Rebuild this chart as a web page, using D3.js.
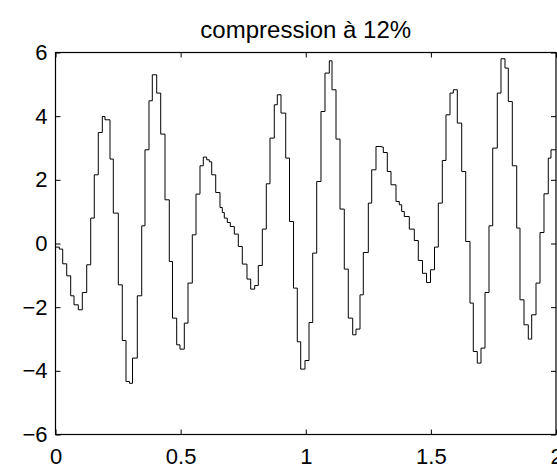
<!DOCTYPE html>
<html><head><meta charset="utf-8">
<script src="https://cdn.jsdelivr.net/npm/d3@7"></script>
<style>
body{margin:0;background:#fff}
svg{display:block}
text{font-family:"Liberation Sans",Arial,Helvetica,sans-serif;fill:#000}
</style>
</head><body>
<svg id="chart" width="557" height="474"></svg>
<script>
const chartTitle = "compression à 12%";
// start time of each constant step (s)
const stepStarts = [0,0.0152,0.0288,0.0448,0.0607,0.0739,0.0911,0.1071,0.1247,0.1407,
0.1550,0.1710,0.1870,0.1978,0.2178,0.2310,0.2510,0.2669,0.2817,0.2957,
0.3077,0.3269,0.3445,0.3576,0.3736,0.3868,0.4044,0.4204,0.4376,0.4547,
0.4675,0.4843,0.4975,0.5147,0.5295,0.5467,0.5614,0.5774,0.5906,0.6042,
0.6146,0.6242,0.6402,0.6573,0.6665,0.6745,0.6865,0.6985,0.7145,0.7305,
0.7465,0.7652,0.7800,0.7960,0.8104,0.8264,0.8424,0.8571,0.8743,0.8863,
0.9011,0.9199,0.9351,0.9510,0.9662,0.9798,0.9970,1.0130,1.0278,1.0438,
1.0609,1.0769,1.0941,1.1049,1.1209,1.1369,1.1540,1.1700,1.1876,1.2008,
1.2168,1.2300,1.2500,1.2635,1.2807,1.3035,1.3099,1.3259,1.3407,1.3606,
1.3738,1.3834,1.3938,1.4138,1.4338,1.4498,1.4665,1.4825,1.4985,1.5145,
1.5297,1.5457,1.5604,1.5764,1.5896,1.6056,1.6232,1.6392,1.6563,1.6695,
1.6855,1.7003,1.7163,1.7323,1.7471,1.7654,1.7802,1.7962,1.8094,1.8254,
1.8430,1.8561,1.8721,1.8893,1.9029,1.9201,1.9361,1.9520,1.9692,1.9800];
// signal value held during each step
const stepValues = [-0.113,-0.176,-0.638,-1.015,-1.643,-1.926,-2.083,-1.539,-0.669,0.798,
2.158,3.487,3.990,3.886,2.652,0.955,-1.298,-3.047,-4.336,-4.392,
-3.600,-1.643,0.556,2.944,4.483,5.300,4.725,3.437,1.373,-0.566,
-2.344,-3.183,-3.318,-2.501,-1.244,0.273,1.552,2.441,2.714,2.630,
2.567,2.158,1.602,1.131,0.974,0.798,0.660,0.534,0.295,-0.094,
-0.647,-1.118,-1.433,-1.320,-0.691,0.452,1.876,3.311,4.358,4.672,
4.097,2.683,0.691,-1.401,-3.088,-3.946,-3.676,-2.482,-0.302,1.948,
4.147,5.353,5.740,4.829,3.280,1.081,-0.804,-2.344,-2.868,-2.689,
-1.612,-0.283,1.269,2.315,3.047,3.029,2.859,2.262,1.844,1.320,
1.216,1.005,0.848,0.452,0.094,-0.534,-0.936,-1.225,-0.826,-0.113,
1.269,2.608,4.043,4.725,4.829,3.783,2.262,0.063,-1.872,-3.393,
-3.757,-3.286,-1.539,0.556,2.997,4.725,5.803,5.510,4.461,2.441,
0.484,-1.769,-2.554,-3.003,-2.240,-1.244,0.346,1.561,2.683,2.944];
const xEnd = 2;
const xTickValues = [0, 0.5, 1, 1.5, 2];
const xTickLabels = ["0", "0.5", "1", "1.5", "2"];
const yTickValues = [-6, -4, -2, 0, 2, 4, 6];
const yTickLabels = ["−6", "−4", "−2", "0", "2", "4", "6"];

const W = 557, H = 474;
const m = {left: 55.5, top: 52.5, right: 1, bottom: 39.5};
const iw = W - m.left - m.right, ih = H - m.top - m.bottom;

const svg = d3.select("#chart");
const g = svg.append("g").attr("transform", `translate(${m.left},${m.top})`);

const x = d3.scaleLinear().domain([0, 2]).range([0, iw]);
const y = d3.scaleLinear().domain([-6, 6]).range([ih, 0]);

const pts = stepStarts.map((t, i) => [t, stepValues[i]]);
pts.push([xEnd, stepValues[stepValues.length - 1]]);

g.append("path")
  .datum(pts)
  .attr("fill", "none")
  .attr("stroke", "#000")
  .attr("stroke-width", 1)
  .attr("d", d3.line().x(d => x(d[0])).y(d => y(d[1])).curve(d3.curveStepAfter));

function styleAxis(sel, fs) {
  sel.select(".domain").remove();
  sel.selectAll(".tick line").attr("stroke", "#000");
  sel.selectAll(".tick text").attr("font-size", fs).attr("fill", "#000")
     .attr("font-family", '"Liberation Sans",Arial,Helvetica,sans-serif');
}

const fs = 22;
g.append("g").attr("transform", `translate(0,${ih})`)
  .call(d3.axisBottom(x).tickValues(xTickValues).tickFormat((d, i) => xTickLabels[i]).tickSizeInner(-5).tickSizeOuter(0).tickPadding(14))
  .call(s => styleAxis(s, fs));
g.append("g")
  .call(d3.axisTop(x).tickValues(xTickValues).tickFormat("").tickSizeInner(-5).tickSizeOuter(0))
  .call(s => styleAxis(s, fs));
g.append("g")
  .call(d3.axisLeft(y).tickValues(yTickValues).tickFormat((d, i) => yTickLabels[i]).tickSizeInner(-5).tickSizeOuter(0).tickPadding(8))
  .call(s => styleAxis(s, fs));
g.append("g").attr("transform", `translate(${iw},0)`)
  .call(d3.axisRight(y).tickValues(yTickValues).tickFormat("").tickSizeInner(-5).tickSizeOuter(0))
  .call(s => styleAxis(s, fs));

g.append("rect").attr("x", 0).attr("y", 0).attr("width", iw).attr("height", ih)
  .attr("fill", "none").attr("stroke", "#000").attr("stroke-width", 1.2);

svg.append("text").attr("x", m.left + iw / 2).attr("y", 38)
  .attr("text-anchor", "middle").attr("font-size", 24).text(chartTitle);
</script>
</body></html>
